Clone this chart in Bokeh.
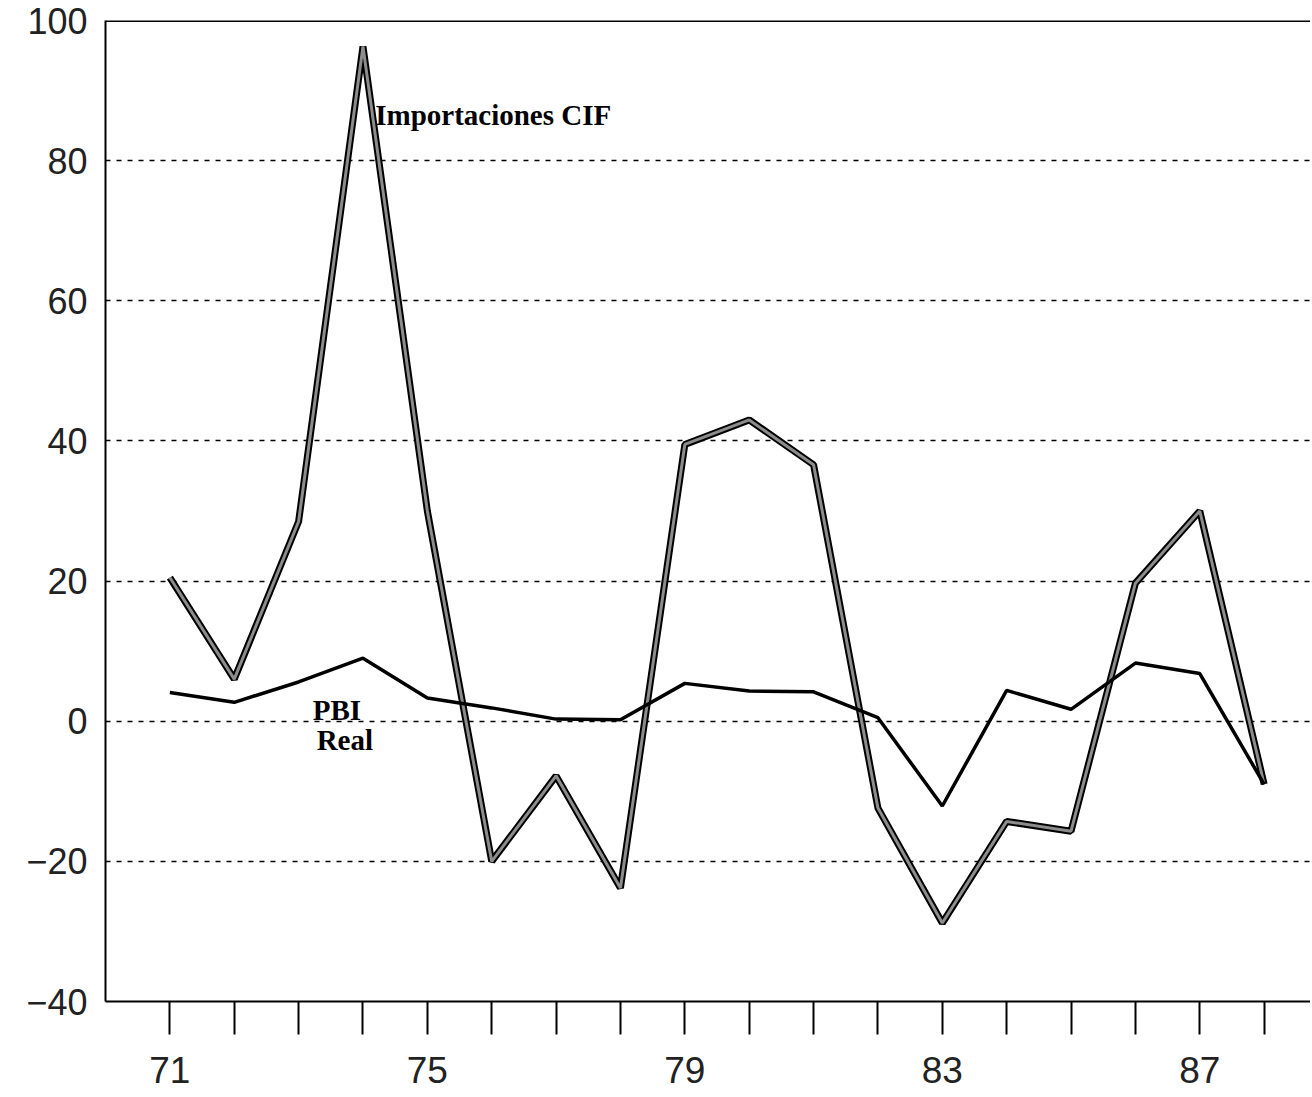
from bokeh.plotting import figure
from bokeh.models import Range1d, FixedTicker, Span, Label
from bokeh.embed import file_html
from bokeh.resources import INLINE

# ---- data ----
years = [71, 72, 73, 74, 75, 76, 77, 78, 79, 80, 81, 82, 83, 84, 85, 86, 87, 88]
importaciones_cif = [20.5, 6.0, 28.5, 96.3, 30.0, -20.0, -7.8, -23.8, 39.5, 43.0,
                     36.6, -12.4, -28.8, -14.3, -15.7, 19.7, 30.0, -9.0]
pbi_real = [4.1, 2.7, 5.6, 9.0, 3.3, 1.9, 0.3, 0.2, 5.4, 4.3,
            4.2, 0.5, -12.1, 4.4, 1.7, 8.3, 6.8, -9.0]
x_label_years = [71, 75, 79, 83, 87]
x_label_texts = ["71", "75", "79", "83", "87"]
y_ticks = [-40, -20, 0, 20, 40, 60, 80, 100]
y_tick_labels = ["\u221240", "\u221220", "0", "20", "40", "60", "80", "100"]

# series labels: text, x, y
label_texts = ["Importaciones CIF", "PBI", "Real"]
label_x = [74.19, 73.22, 73.28]
label_y = [86.5, 1.6, -2.7]

p = figure(width=1310, height=1096, output_backend="svg", toolbar_location=None,
           x_range=Range1d(70.0, 88.72), y_range=Range1d(-40, 100),
           min_border_left=105, min_border_right=0, min_border_top=20,
           min_border_bottom=95)
p.outline_line_color = None
p.background_fill_color = "white"
p.border_fill_color = "white"

# axes
p.xaxis.ticker = FixedTicker(ticks=years)
p.xaxis.major_label_overrides = {y: "" for y in years}
p.xaxis.major_label_overrides.update(dict(zip(x_label_years, x_label_texts)))
p.xaxis.major_tick_in = 0
p.xaxis.major_tick_out = 33
p.xaxis.major_tick_line_width = 2
p.xaxis.major_tick_line_color = "black"
p.xaxis.minor_tick_line_color = None
p.xaxis.axis_line_width = 2
p.xaxis.axis_line_color = "black"
p.xaxis.major_label_standoff = 22
p.xaxis.major_label_text_font = "Liberation Sans"
p.xaxis.major_label_text_font_size = "37px"
p.xaxis.major_label_text_line_height = 1.0
p.xaxis.major_label_text_color = "#222222"

p.yaxis.ticker = FixedTicker(ticks=y_ticks)
p.yaxis.major_label_overrides = dict(zip(y_ticks, y_tick_labels))
p.yaxis.major_tick_in = 0
p.yaxis.major_tick_out = 0
p.yaxis.minor_tick_line_color = None
p.yaxis.axis_line_width = 2
p.yaxis.axis_line_color = "black"
p.yaxis.major_label_standoff = 18
p.yaxis.major_label_text_font = "Liberation Sans"
p.yaxis.major_label_text_font_size = "36px"
p.yaxis.major_label_text_line_height = 1.0
p.yaxis.major_label_text_color = "#222222"

# grid
p.xgrid.grid_line_color = None
p.ygrid.grid_line_color = "black"
p.ygrid.grid_line_width = 1.5
p.ygrid.grid_line_dash = "5 6"

# top border
p.add_layout(Span(location=y_ticks[-1], dimension="width", line_color="black", line_width=3))

# series
p.line(years, importaciones_cif, line_color="black", line_width=7)
p.line(years, importaciones_cif, line_color="#8c8c8c", line_width=3)
p.line(years, pbi_real, line_color="black", line_width=3.5)

for t, lx, ly in zip(label_texts, label_x, label_y):
    p.add_layout(Label(x=lx, y=ly, text=t, text_font="Liberation Serif",
                       text_font_style="bold", text_font_size="29px",
                       text_color="black", text_baseline="alphabetic",
                       text_align="left"))

open("out.html", "w").write(file_html(p, INLINE))
